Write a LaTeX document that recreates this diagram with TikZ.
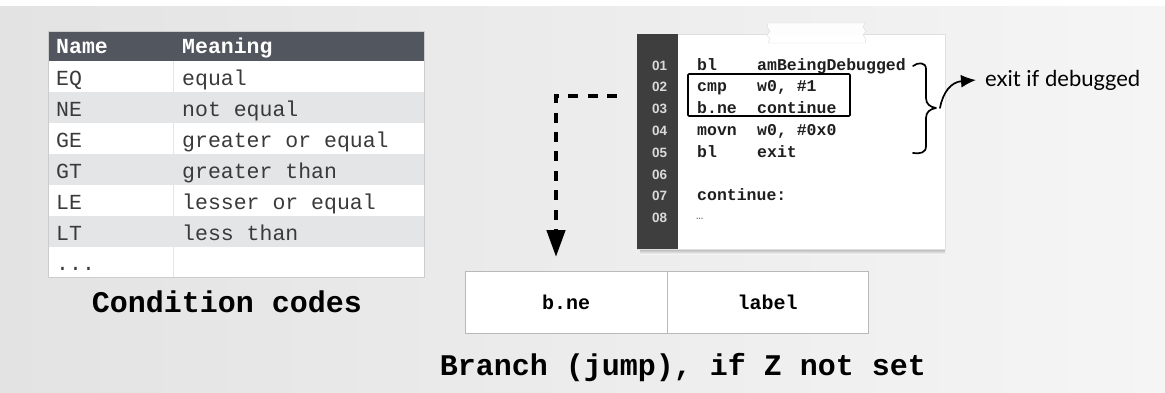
\documentclass[tikz,border=0pt]{standalone}
\usepackage{fontspec}
\setmonofont{Liberation Mono}
\newfontfamily\numfont{Liberation Sans}
\newfontfamily\handfont{Lato}
\usetikzlibrary{arrows.meta,calc}

\definecolor{bgl}{HTML}{E3E3E3}
\definecolor{bgr}{HTML}{F5F5F5}
\definecolor{headgray}{HTML}{52565E}
\definecolor{rowgray}{HTML}{E4E5E7}
\definecolor{tabtext}{HTML}{3A3A3A}
\definecolor{gutter}{HTML}{3E3E3E}
\definecolor{gutnum}{HTML}{DADADA}

\tikzset{
  tabcell/.style={font=\ttfamily\fontsize{21.5}{24}\selectfont, text=tabtext, anchor=base west, inner sep=0pt},
  tabhead/.style={font=\ttfamily\bfseries\fontsize{21.5}{24}\selectfont, text=white, anchor=base west, inner sep=0pt},
  codeline/.style={font=\ttfamily\bfseries\fontsize{16.5}{18}\selectfont, text=black!88, anchor=base west, inner sep=0pt},
  lineno/.style={font=\numfont\bfseries\fontsize{13.5}{15}\selectfont, text=gutnum, anchor=base west, inner sep=0pt},
  caption/.style={font=\ttfamily\bfseries\fontsize{30}{34}\selectfont, anchor=base, inner sep=0pt},
  fieldcell/.style={draw=gray!55, fill=white, minimum height=62pt, inner sep=0pt,
    font=\ttfamily\bfseries\fontsize{20}{22}\selectfont},
  card/.style={fill=white, draw=gray!25, inner sep=0pt},
  jumpline/.style={line width=4.5pt, dash pattern=on 10pt off 9.4pt, line join=miter},
  handline/.style={line width=1.7pt, line cap=round, line join=round},
}

\begin{document}
\begin{tikzpicture}[x=1pt,y=-1pt]
\useasboundingbox (0,0) rectangle (1165,392);

% page background
\fill[white] (0,0) rectangle (1165,392);
\shade[left color=bgl, right color=bgr] (0,6) rectangle (1165,392);

% ---- condition code table ----
\fill[headgray] (48,31) rectangle (424,61);
\fill[white] (48,61) rectangle (424,277);
\foreach \i in {1,3,5}
  \fill[rowgray] (48,{61+31*\i}) rectangle (424,{92+31*\i});
\draw[gray!20] (173,61) -- (173,277);
\draw[gray!40] (48,31) rectangle (424,277);

\node[tabhead] (hname) at (56,53) {Name};
\node[tabhead] (hmean) at (182,53) {Meaning};

\node[tabcell] (n1) at (56,85)  {EQ}; \node[tabcell] (m1) at (182,85)  {equal};
\node[tabcell] (n2) at (56,116) {NE}; \node[tabcell] (m2) at (182,116) {not equal};
\node[tabcell] (n3) at (56,147) {GE}; \node[tabcell] (m3) at (182,147) {greater or equal};
\node[tabcell] (n4) at (56,178) {GT}; \node[tabcell] (m4) at (182,178) {greater than};
\node[tabcell] (n5) at (56,209) {LE}; \node[tabcell] (m5) at (182,209) {lesser or equal};
\node[tabcell] (n6) at (56,240) {LT}; \node[tabcell] (m6) at (182,240) {less than};
\node[tabcell] (n7) at (56,270) {...};

\node[caption] (cc) at (227,312) {Condition codes};

% ---- code card ----
\shade[top color=gray!70, bottom color=bgr] (640,248) rectangle (945,254);
\node[card, minimum width=308pt, minimum height=215pt] (card) at (791,141.5) {};
\fill[gutter] (637,34) rectangle (678,249);

% tape strip on top of the card
\filldraw[fill=white, fill opacity=0.92, draw=gray!30]
  (768,23) -- (865,23) -- (863,27) -- (866,31) -- (863,35) -- (866,39) -- (865,43)
  -- (768,43) -- (770,39) -- (767,35) -- (770,31) -- (767,27) -- cycle;

\foreach \i in {1,...,8}
  \node[lineno] (ln\i) at (652,{70+21.8*(\i-1)}) {0\i};

\node[codeline] (c1a) at (697,70)    {bl};
\node[codeline] (c1b) at (757,70)    {amBeingDebugged};
\node[codeline] (c2a) at (697,91.8)  {cmp};
\node[codeline] (c2b) at (757,91.8)  {w0, \#1};
\node[codeline] (c3a) at (697,113.6) {b.ne};
\node[codeline] (c3b) at (757,113.6) {continue};
\node[codeline] (c4a) at (697,135.4) {movn};
\node[codeline] (c4b) at (757,135.4) {w0, \#0x0};
\node[codeline] (c5a) at (697,157.2) {bl};
\node[codeline] (c5b) at (757,157.2) {exit};
\node[codeline] (c7a) at (697,200.8) {continue:};
\node[codeline, font=\ttfamily\fontsize{12}{14}\selectfont, text=black!60] (c8a) at (696,219) {…};

% highlight around the compare-and-branch pair
\draw[line width=1.6pt, rounded corners=1pt] (688,74) rectangle (850,116);

% brace grouping lines 01-05
\coordinate (bracetip) at (936,108);
\draw[handline]
  (913,66) .. controls (918,62) and (926,62) .. (926,69) -- (926,98)
  .. controls (926,104) and (930,107) .. (bracetip)
  .. controls (930,109) and (926,112) .. (926,118) -- (926,146)
  .. controls (926,153) and (920,154) .. (913,153);

\node[font=\handfont\fontsize{22}{25}\selectfont, anchor=west, inner sep=0pt] (exitlbl) at (985,80) {exit if debugged};
\draw[handline, -{Latex[length=15pt,width=13pt]}]
  ([xshift=4pt]bracetip) .. controls (943,92) and (951,82) .. ([xshift=-9pt]exitlbl.west);

% ---- instruction encoding ----
\node[fieldcell, minimum width=202pt] (opc) at (566,302) {b.ne};
\node[fieldcell, minimum width=201pt] (lbl) at (767.5,302) {label};

\coordinate (jumpfrom) at (617,96);
\coordinate (jumpto) at (556,257);
\draw[jumpline, -{Triangle[length=27pt,width=18pt]}] (jumpfrom) -| (jumpto);

\node[caption] (brcap) at (683,375) {Branch (jump), if Z not set};
\end{tikzpicture}
\end{document}
